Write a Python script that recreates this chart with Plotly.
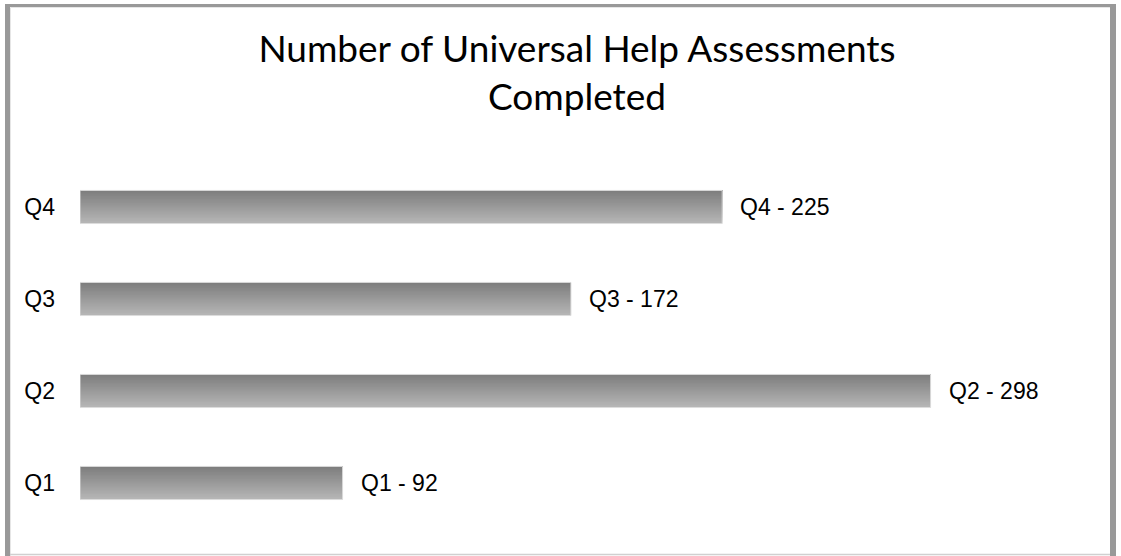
import plotly.graph_objects as go

categories = ["Q1", "Q2", "Q3", "Q4"]
values = [92, 298, 172, 225]
labels = ["Q1 - 92", "Q2 - 298", "Q3 - 172", "Q4 - 225"]
title_text = "Number of Universal Help Assessments<br>Completed"

W, H = 1121, 556
ML, MR, MT, MB = 80, 42, 161, 27
PW = W - ML - MR
PH = H - MT - MB

def px_x(p):
    return (p - ML) / PW

def px_y(p):
    return (H - MB - p) / PH

fig = go.Figure()

# gradient bars built from overlapping strips (light bottom -> dark top)
N = 24
BW = 0.36
top_c = (0x7e, 0x7e, 0x7e)
bot_c = (0xb6, 0xb6, 0xb6)
for i in range(N):
    t = i / (N - 1)
    c = tuple(round(bot_c[k] + (top_c[k] - bot_c[k]) * t) for k in range(3))
    off = -BW / 2 + i * BW / N
    fig.add_trace(go.Bar(
        y=categories, x=values, orientation="h",
        width=BW - i * BW / N, offset=off,
        marker=dict(color="rgb(%d,%d,%d)" % c, line=dict(width=0)),
        hoverinfo="skip", showlegend=False,
    ))
# faint outline
fig.add_trace(go.Bar(
    y=categories, x=values, orientation="h", width=BW, offset=-BW / 2,
    marker=dict(color="rgba(0,0,0,0)", line=dict(width=1, color="#dcdcdc")),
    hoverinfo="skip", showlegend=False,
))

annotations = []
for c, v, l in zip(categories, values, labels):
    annotations.append(dict(
        x=v, y=c, xref="x", yref="y", text=l, showarrow=False,
        xanchor="left", yanchor="middle", xshift=16,
        font=dict(family="Liberation Sans, Arial", size=23, color="#000000"),
    ))

shapes = [
    dict(type="rect", xref="paper", yref="paper", x0=px_x(5), x1=px_x(10), y0=px_y(556), y1=px_y(4),
         fillcolor="#999999", line=dict(width=0), layer="above"),
    dict(type="rect", xref="paper", yref="paper", x0=px_x(5), x1=px_x(1116), y0=px_y(7), y1=px_y(4),
         fillcolor="#999999", line=dict(width=0), layer="above"),
    dict(type="rect", xref="paper", yref="paper", x0=px_x(1110), x1=px_x(1116), y0=px_y(556), y1=px_y(4),
         fillcolor="#999999", line=dict(width=0), layer="above"),
    dict(type="line", xref="paper", yref="paper", x0=px_x(10.5), x1=px_x(1110), y0=px_y(7.5), y1=px_y(7.5),
         line=dict(width=1, color="#e6e6e6")),
    dict(type="line", xref="paper", yref="paper", x0=px_x(10.5), x1=px_x(10.5), y0=px_y(556), y1=px_y(7.5),
         line=dict(width=1, color="#e6e6e6")),
    dict(type="line", xref="paper", yref="paper", x0=px_x(10), x1=px_x(1110), y0=px_y(554.5), y1=px_y(554.5),
         line=dict(width=1.5, color="#d0d0d0")),
]

fig.update_layout(
    width=W, height=H,
    margin=dict(l=ML, r=MR, t=MT, b=MB, pad=0),
    paper_bgcolor="white", plot_bgcolor="white",
    barmode="overlay",
    title=dict(text=title_text, x=px_x(577), xref="paper", xanchor="center",
               y=1 - 62 / H, yanchor="top",
               font=dict(family="Lato, Open Sans", size=37, color="#000000")),
    xaxis=dict(range=[0, 350], showgrid=False, zeroline=False, showticklabels=False,
               showline=False, ticks=""),
    yaxis=dict(categoryorder="array", categoryarray=categories, range=[-0.5, 3.5],
               showgrid=False, zeroline=False, showline=False, ticks="",
               ticklabelstandoff=24,
               tickfont=dict(family="Liberation Sans, Arial", size=23, color="#000000")),
    annotations=annotations,
    shapes=shapes,
)

fig.write_html("out.html", config={"displayModeBar": False},
               post_script="document.body.style.margin='0px';document.body.style.overflow='hidden';")
